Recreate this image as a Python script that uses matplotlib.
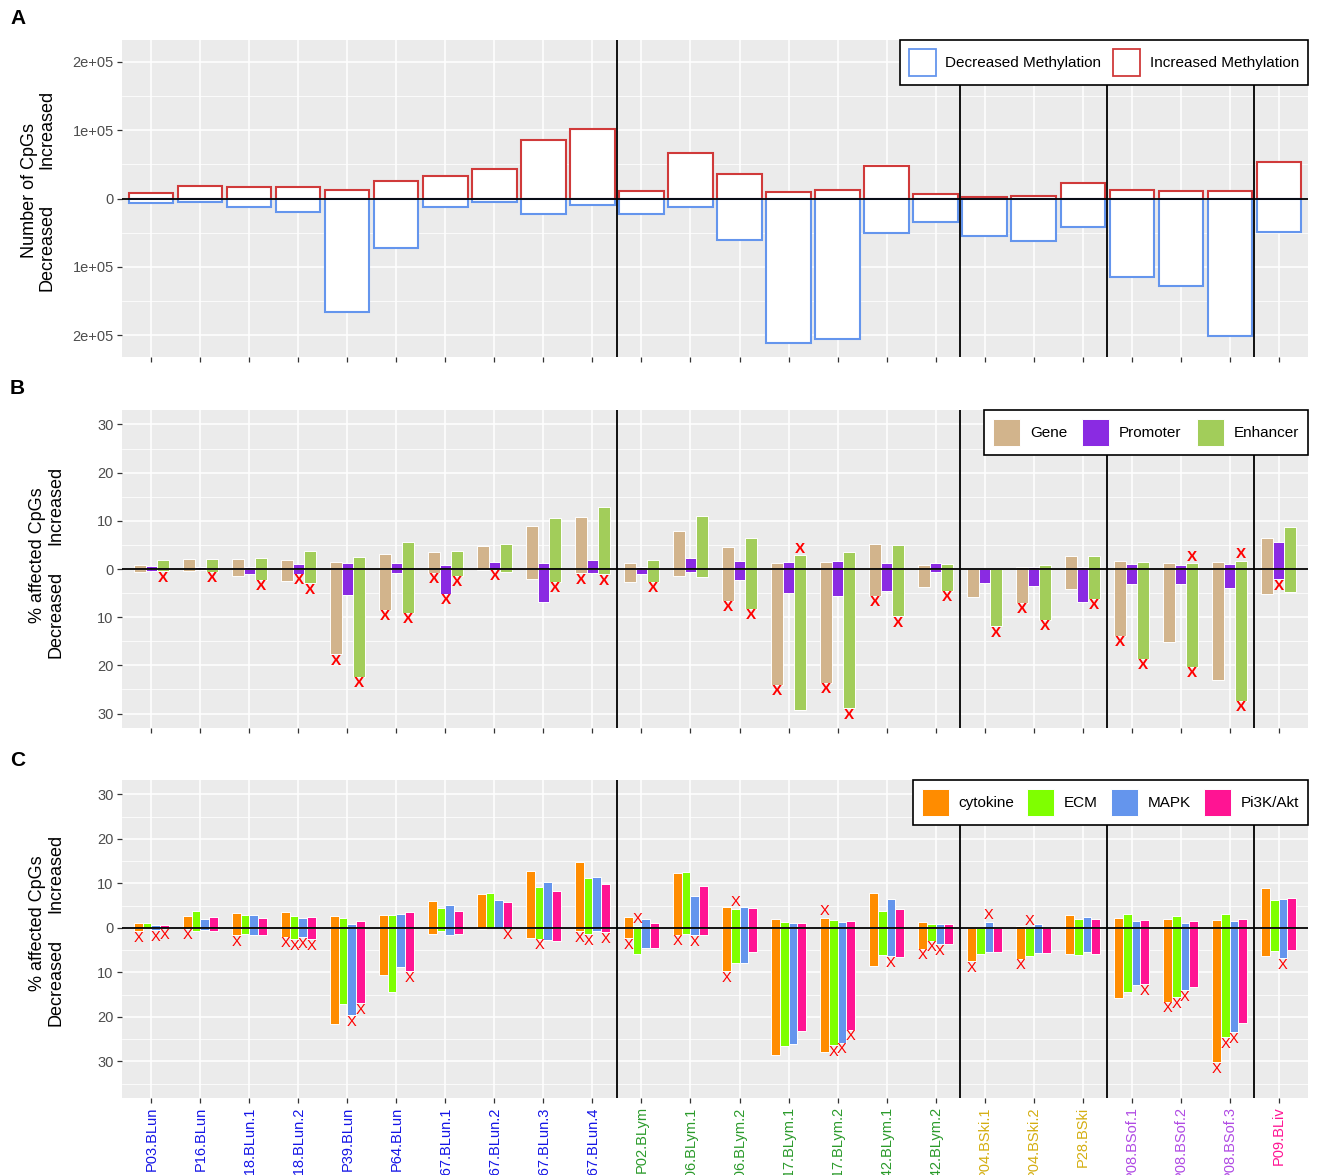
import numpy as np
import matplotlib
matplotlib.use("Agg")
import matplotlib.pyplot as plt
from matplotlib.patches import Patch

plt.rcParams['font.family'] = ['Liberation Sans', 'DejaVu Sans']

# ---- samples -------------------------------------------------------------
samples = ["P03.BLun", "P16.BLun", "P18.BLun.1", "P18.BLun.2", "P39.BLun", "P64.BLun",
           "P67.BLun.1", "P67.BLun.2", "P67.BLun.3", "P67.BLun.4",
           "P02.BLym", "P06.BLym.1", "P06.BLym.2", "P17.BLym.1", "P17.BLym.2",
           "P42.BLym.1", "P42.BLym.2",
           "P04.BSki.1", "P04.BSki.2", "P28.BSki",
           "P08.BSof.1", "P08.BSof.2", "P08.BSof.3",
           "P09.BLiv"]
tissue = ["BLun"] * 10 + ["BLym"] * 7 + ["BSki"] * 3 + ["BSof"] * 3 + ["BLiv"]
tissue_colors = {"BLun": "#1414E6", "BLym": "#2A9A2A", "BSki": "#D4AE10",
                 "BSof": "#B04AE4", "BLiv": "#FF1493"}
group_breaks = [10.5, 17.5, 20.5, 23.5]

# ---- A: number of differentially methylated CpGs -------------------------
inc_cpgs = [7800, 18000, 17500, 17000, 12600, 25700, 33000, 43700, 85900, 101500,
            10700, 66500, 36400, 10200, 12100, 47600, 6800,
            2900, 3900, 22300, 12600, 10700, 11700, 53400]
dec_cpgs = [6800, 5800, 12600, 19900, 166000, 72300, 13100, 4400, 23300, 9700,
            22800, 12600, 60200, 211000, 206300, 50500, 34000,
            54400, 62100, 41300, 115500, 128200, 201500, 48500]

# ---- B: % affected CpGs by genomic region --------------------------------
gene_inc = [0.8, 2.1, 2.0, 1.9, 1.5, 3.2, 3.6, 4.8, 8.9, 10.7, 1.3, 7.9, 4.6, 1.2,
            1.4, 5.2, 0.8, 0.3, 0.4, 2.8, 1.6, 1.3, 1.4, 6.4]
gene_dec = [0.6, 0.5, 1.4, 2.4, 17.7, 8.5, 0.8, 0.3, 2.1, 0.9, 2.6, 1.4, 6.6, 24.0,
            23.6, 5.5, 3.7, 5.9, 7.0, 4.1, 13.9, 15.2, 23.0, 5.2]
prom_inc = [0.6, 0.5, 0.5, 1.0, 1.3, 1.3, 0.8, 1.5, 1.3, 1.9, 0.5, 2.3, 1.7, 1.4,
            1.7, 1.2, 1.2, 0.05, 0.5, 0.5, 1.0, 0.8, 1.1, 5.6]
prom_dec = [0.35, 0.3, 1.0, 1.0, 5.4, 0.9, 5.2, 0.15, 6.8, 0.8, 1.0, 0.7, 2.3, 5.0,
            5.5, 4.5, 0.6, 3.0, 3.5, 6.8, 3.2, 3.1, 4.0, 2.1]
enh_inc = [1.9, 2.1, 2.3, 3.7, 2.5, 5.7, 3.8, 5.2, 10.5, 12.9, 1.8, 10.9, 6.4, 2.9,
           3.6, 5.0, 1.0, 0.3, 0.8, 2.6, 1.5, 1.2, 1.7, 8.8]
enh_dec = [0.5, 0.6, 2.3, 3.0, 22.4, 9.1, 1.4, 0.6, 2.6, 1.1, 2.7, 1.7, 8.3, 29.3,
           28.9, 9.8, 4.5, 11.9, 10.6, 6.2, 18.6, 20.3, 27.4, 4.8]
# significance flags (1-based sample numbers)
gene_sig_dec = [5, 6, 7, 10, 13, 14, 15, 16, 19, 21]
gene_sig_inc = []
prom_sig_dec = [4, 7, 8, 24]
prom_sig_inc = []
enh_sig_dec = [1, 2, 3, 4, 5, 6, 7, 9, 10, 11, 13, 15, 16, 17, 18, 19, 20, 21, 22, 23]
enh_sig_inc = [14, 22, 23]

# ---- C: % affected CpGs by pathway ----------------------------------------
cyto_inc = [1.1, 2.7, 3.3, 3.6, 2.6, 2.9, 6.0, 7.6, 12.7, 14.8, 2.55, 12.4, 4.8, 2.0,
            2.25, 7.9, 1.3, 0.1, 0.4, 3.0, 2.3, 2.1, 1.8, 9.0]
cyto_dec = [0.75, 0.2, 1.65, 1.95, 21.6, 10.5, 1.35, 0.15, 2.3, 0.7, 2.25, 1.5, 9.7,
            28.6, 28.0, 8.5, 4.7, 7.5, 6.9, 5.8, 15.7, 16.6, 30.2, 6.3]
ecm_inc = [1.2, 3.9, 2.85, 2.7, 2.2, 2.9, 4.5, 7.8, 9.1, 11.2, 0.45, 12.6, 4.3, 1.35,
           1.8, 3.75, 0.8, 0.2, 0.15, 2.1, 3.1, 2.7, 3.15, 6.2]
ecm_dec = [0.1, 0.6, 1.4, 2.6, 17.2, 14.5, 0.7, 0.1, 2.4, 1.4, 5.8, 1.35, 8.0, 26.5,
           26.4, 6.1, 2.9, 5.8, 6.3, 6.0, 14.5, 15.6, 24.6, 5.1]
mapk_inc = [0.75, 2.1, 2.85, 2.3, 0.9, 3.1, 5.2, 6.3, 10.3, 11.4, 1.95, 7.2, 4.6, 1.2,
            1.4, 6.4, 0.8, 1.3, 0.8, 2.4, 1.5, 1.2, 1.5, 6.4]
mapk_dec = [0.5, 0.45, 1.6, 2.1, 19.6, 8.8, 1.6, 0.05, 2.7, 0.7, 4.6, 1.6, 7.9, 26.1,
            25.8, 6.4, 3.6, 5.5, 5.6, 5.4, 12.9, 14.0, 23.4, 6.8]
pi3k_inc = [0.7, 2.4, 2.25, 2.4, 1.6, 3.5, 3.9, 5.8, 8.4, 9.8, 1.0, 9.4, 4.5, 1.05,
            1.5, 4.3, 0.8, 0.3, 0.05, 1.95, 1.8, 1.65, 1.95, 6.8]
pi3k_dec = [0.1, 0.7, 1.65, 2.5, 16.9, 9.7, 1.3, 0.1, 3.0, 0.9, 4.5, 1.5, 5.5, 23.2,
            22.9, 6.5, 3.6, 5.4, 5.7, 5.8, 12.7, 13.2, 21.3, 5.0]
cyto_sig_dec = [1, 2, 3, 4, 10, 11, 12, 13, 17, 18, 19, 22, 23]
cyto_sig_inc = [15]
ecm_sig_dec = [4, 9, 10, 15, 17, 22, 23]
ecm_sig_inc = [11, 13, 19]
mapk_sig_dec = [1, 4, 5, 12, 15, 16, 17, 22, 23, 24]
mapk_sig_inc = [18]
pi3k_sig_dec = [1, 4, 5, 6, 8, 10, 15, 21]
pi3k_sig_inc = []

# ---- figure ---------------------------------------------------------------
W, H = 1317, 1175
fig = plt.figure(figsize=(W / 100, H / 100), dpi=100)


def px_axes(top, bottom, left=122, right=1308):
    return fig.add_axes([left / W, 1 - bottom / H, (right - left) / W, (bottom - top) / H])


axA = px_axes(40, 357)
axB = px_axes(410, 728)
axC = px_axes(780, 1098)

x = np.arange(1, len(samples) + 1)
PANEL_BG = "#EBEBEB"
TICK_TXT = "#4D4D4D"


def style_axes(ax, ylim, major, minor, labels):
    ax.set_facecolor(PANEL_BG)
    for s in ax.spines.values():
        s.set_visible(False)
    ax.set_xlim(0.4, len(samples) + 0.6)
    ax.set_ylim(*ylim)
    ax.set_yticks(major)
    ax.set_yticklabels(labels)
    ax.set_yticks(minor, minor=True)
    ax.set_xticks(x)
    ax.grid(True, which="major", color="white", lw=1.1, zorder=0)
    ax.grid(True, which="minor", axis="y", color="white", lw=0.55, zorder=0)
    ax.set_axisbelow(True)
    ax.tick_params(axis="both", which="major", length=3.5, width=0.9, color="#333333",
                   labelcolor=TICK_TXT, labelsize=10.5, pad=2.5)
    ax.tick_params(axis="y", which="minor", length=0)
    ax.axhline(0, color="black", lw=1.3, zorder=4)
    for b in group_breaks:
        ax.axvline(b, color="black", lw=1.3, zorder=4)


def boxed_legend(ax, handles, ncol, colsp):
    leg = ax.legend(handles=handles, loc="upper right", bbox_to_anchor=(1, 1),
                    borderaxespad=0, ncol=ncol, fontsize=11, frameon=True, fancybox=False,
                    framealpha=1, handlelength=1.75, handleheight=2.3, handletextpad=0.65,
                    columnspacing=colsp, borderpad=0.6)
    leg.get_frame().set_edgecolor("black")
    leg.get_frame().set_linewidth(1.2)
    leg.set_zorder(10)
    return leg


# Panel A
style_axes(axA, (-2.32e5, 2.32e5), [-2e5, -1e5, 0, 1e5, 2e5],
           [-1.5e5, -0.5e5, 0.5e5, 1.5e5],
           ["2e+05", "1e+05", "0", "1e+05", "2e+05"])
col_dec, col_inc = "#6495ED", "#D03A3A"
axA.bar(x, inc_cpgs, width=0.9, facecolor="white", edgecolor=col_inc, lw=1.5, zorder=3)
axA.bar(x, -np.array(dec_cpgs), width=0.9, facecolor="white", edgecolor=col_dec, lw=1.5, zorder=3)
axA.set_xticklabels([])
boxed_legend(axA, [Patch(facecolor="white", edgecolor=col_dec, lw=1.3, label="Decreased Methylation"),
                   Patch(facecolor="white", edgecolor=col_inc, lw=1.3, label="Increased Methylation")],
             2, 0.75)


def mark(ax, xs, vals, sig_dec, sig_inc, dec_vals, fs, weight, off):
    for k in sig_dec:
        ax.annotate("X", (xs[k - 1], -dec_vals[k - 1]), xytext=(0, -off), textcoords="offset points",
                    ha="center", va="center", color="red", fontsize=fs, fontweight=weight, zorder=6)
    for k in sig_inc:
        ax.annotate("X", (xs[k - 1], vals[k - 1]), xytext=(0, off), textcoords="offset points",
                    ha="center", va="center", color="red", fontsize=fs, fontweight=weight, zorder=6)


# Panel B
style_axes(axB, (-33, 33), [-30, -20, -10, 0, 10, 20, 30], [-25, -15, -5, 5, 15, 25],
           ["30", "20", "10", "0", "10", "20", "30"])
region_series = [("Gene", "#D2B48C", gene_inc, gene_dec, gene_sig_dec, gene_sig_inc),
                 ("Promoter", "#8A2BE2", prom_inc, prom_dec, prom_sig_dec, prom_sig_inc),
                 ("Enhancer", "#A2CD5A", enh_inc, enh_dec, enh_sig_dec, enh_sig_inc)]
wB = 0.7 / 3
for i, (name, col, inc, dec, sd, si) in enumerate(region_series):
    xs = x + (i - 1) * wB
    axB.bar(xs, inc, width=wB, color=col, edgecolor="white", lw=0.7, zorder=3)
    axB.bar(xs, -np.array(dec), width=wB, color=col, edgecolor="white", lw=0.7, zorder=3)
    mark(axB, xs, inc, sd, si, dec, 11, "bold", 4.6)
axB.set_xticklabels([])
boxed_legend(axB, [Patch(facecolor=c, edgecolor="white", lw=0.7, label=n)
                   for n, c, *_ in region_series], 3, 1.0)

# Panel C
style_axes(axC, (-38.25, 33.25), [-30, -20, -10, 0, 10, 20, 30], [-35, -25, -15, -5, 5, 15, 25],
           ["30", "20", "10", "0", "10", "20", "30"])
path_series = [("cytokine", "#FF8C00", cyto_inc, cyto_dec, cyto_sig_dec, cyto_sig_inc),
               ("ECM", "#7FFF00", ecm_inc, ecm_dec, ecm_sig_dec, ecm_sig_inc),
               ("MAPK", "#6495ED", mapk_inc, mapk_dec, mapk_sig_dec, mapk_sig_inc),
               ("Pi3K/Akt", "#FF1493", pi3k_inc, pi3k_dec, pi3k_sig_dec, pi3k_sig_inc)]
wC = 0.7 / 4
for i, (name, col, inc, dec, sd, si) in enumerate(path_series):
    xs = x + (i - 1.5) * wC
    axC.bar(xs, inc, width=wC, color=col, edgecolor="white", lw=0.7, zorder=3)
    axC.bar(xs, -np.array(dec), width=wC, color=col, edgecolor="white", lw=0.7, zorder=3)
    mark(axC, xs, inc, sd, si, dec, 10.5, "normal", 4.8)
axC.set_xticklabels(samples, rotation=90, ha="center", va="top", fontsize=10.5)
for lab, t in zip(axC.get_xticklabels(), tissue):
    lab.set_color(tissue_colors[t])
boxed_legend(axC, [Patch(facecolor=c, edgecolor="white", lw=0.7, label=n)
                   for n, c, *_ in path_series], 4, 0.85)

# Panel letters
for letter, ypx in [("A", 18), ("B", 389), ("C", 760)]:
    fig.text(10 / W, 1 - ypx / H, letter, fontsize=15, fontweight="bold", ha="left", va="center")


# Two-line y-axis titles
def ytitle(x1, x2, ctr, top, bottom, first):
    fig.text(x1 / W, 1 - ctr / H, first, rotation=90, ha="center", va="center", fontsize=13)
    fig.text(x2 / W, 1 - top / H, "Increased", rotation=90, ha="center", va="center", fontsize=13)
    fig.text(x2 / W, 1 - bottom / H, "Decreased", rotation=90, ha="center", va="center", fontsize=13)


ytitle(30, 47, 190, 129, 247, "Number of CpGs")
ytitle(38, 56, 555, 505, 614, "% affected CpGs")
ytitle(38, 56, 923, 873, 982, "% affected CpGs")

fig.savefig("out.png", dpi=100)
